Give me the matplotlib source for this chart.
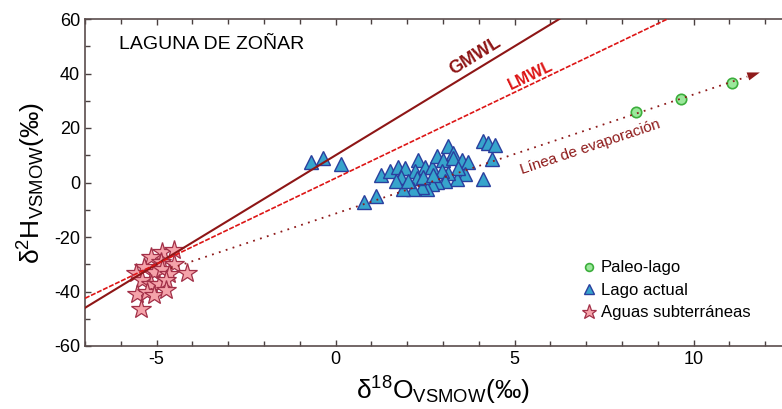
import numpy as np
import matplotlib
matplotlib.use('Agg')
from matplotlib import pyplot as plt
from matplotlib.ticker import MultipleLocator

plt.rcParams['font.family'] = ['Liberation Sans', 'DejaVu Sans']
plt.rcParams['mathtext.fontset'] = 'custom'
plt.rcParams['mathtext.rm'] = 'Liberation Sans'
plt.rcParams['mathtext.it'] = 'Liberation Sans:italic'
plt.rcParams['mathtext.bf'] = 'Liberation Sans:bold'
plt.rcParams['axes.unicode_minus'] = False

# Paleo-lago
paleo_x = [8.4, 9.66, 11.06]
paleo_y = [26.0, 30.6, 36.4]

# Lago actual
lago_x = [-0.68, -0.36, 0.14, 1.28, 1.51, 1.75, 1.93, 2.31, 2.21, 2.49, 2.68,
          2.82, 3.15, 3.01, 3.27, 3.29, 3.52, 3.71, 4.13, 4.27, 4.45, 4.38,
          4.13, 3.61, 3.38, 3.43, 3.15, 2.96, 3.05, 2.82, 2.68, 2.54, 2.40,
          2.26, 2.17, 1.87, 1.84, 1.70, 2.03, 2.45, 2.73, 1.14, 0.79]
lago_y = [7.4, 9.0, 6.8, 2.8, 4.4, 5.6, 5.2, 8.3, 4.4, 5.6, 5.6,
          9.6, 13.3, 8.3, 10.9, 8.9, 8.4, 7.7, 15.4, 14.4, 13.6, 8.7,
          1.4, 3.2, 1.4, 5.2, 3.4, 4.1, 0.5, 0.1, -0.7, -2.3, -1.5,
          1.7, -2.3, -2.3, 1.9, 0.4, 0.7, 1.9, 2.6, -4.8, -7.2]

# Aguas subterraneas
sub_x = [-4.84, -4.51, -5.16, -4.88, -4.51, -5.35, -5.58, -5.07, -4.84, -4.65,
         -4.14, -5.40, -5.16, -4.93, -4.74, -5.54, -5.26, -5.07, -4.74, -5.44]
sub_y = [-25.5, -24.7, -27.4, -29.2, -29.8, -31.0, -33.2, -32.9, -31.6, -33.4,
         -33.2, -35.9, -37.1, -37.1, -35.9, -40.8, -40.2, -41.4, -39.6, -46.3]

# rectas
gmwl_slope, gmwl_icpt = 8.0, 10.0
lmwl_slope, lmwl_icpt = 6.3, 1.6
evap_slope, evap_icpt = 4.37, -11.4
evap_start, evap_end = -4.6, 11.5

fig = plt.figure(figsize=(7.82, 4.09), dpi=100)
ax = fig.add_axes([85 / 782, 1 - 346 / 409, 716 / 782, 327 / 409])
ax.set_xlim(-7, 13)
ax.set_ylim(-60, 60)

xx = np.array([-7, 13])
ax.plot(xx, gmwl_slope * xx + gmwl_icpt, color='#8e1616', lw=1.5, zorder=4)
ax.plot(xx, lmwl_slope * xx + lmwl_icpt, color='#dd1515', lw=1.2,
        dashes=(3, 1), zorder=4)
ex = np.array([evap_start, evap_end])
ax.plot(ex, evap_slope * ex + evap_icpt, color='#8e1a1a', lw=1.3,
        dashes=(1, 3), zorder=4)
tip = evap_end + 0.35
ax.annotate('', xy=(tip, evap_slope * tip + evap_icpt),
            xytext=(evap_end, evap_slope * evap_end + evap_icpt),
            arrowprops=dict(arrowstyle='-|>,head_length=0.9,head_width=0.3',
                            color='#8e1a1a', lw=0, shrinkA=0, shrinkB=0),
            zorder=4)

ax.plot(paleo_x, paleo_y, 'o', ms=7.5, mfc='#9be89b', mec='#3cae3c', mew=1.2,
        ls='none', label='Paleo-lago', zorder=3)
ax.plot(lago_x, lago_y, '^', ms=10, mfc='#37a4cc', mec='#2a3f9e', mew=1.0,
        ls='none', label='Lago actual', zorder=3)
ax.plot(sub_x, sub_y, '*', ms=15, mfc='#f5a3aa', mec='#a23048', mew=0.9,
        ls='none', label='Aguas subterráneas', zorder=3)

ax.text(-6.05, 50.7, 'LAGUNA DE ZOÑAR', fontsize=14, ha='left', va='center')
ax.text(3.89, 46.5, 'GMWL', fontsize=13, fontweight='bold', color='#8e1616',
        rotation=31.5, ha='center', va='center', rotation_mode='anchor')
ax.text(5.44, 39.2, 'LMWL', fontsize=11.5, fontweight='bold', color='#dd1515',
        rotation=25.7, ha='center', va='center', rotation_mode='anchor')
ax.text(7.11, 12.9, 'Línea de evaporación', fontsize=11, color='#8e1a1a',
        rotation=18.5, ha='center', va='center', rotation_mode='anchor')

ax.set_xlabel(r'δ$^{18}$O$_{\mathrm{VSMOW}}$(‰)', fontsize=19, labelpad=5)
ax.set_ylabel(r'δ$^{2}$H$_{\mathrm{VSMOW}}$(‰)', fontsize=19, labelpad=4)

ax.xaxis.set_major_locator(MultipleLocator(5))
ax.xaxis.set_minor_locator(MultipleLocator(1))
ax.yaxis.set_major_locator(MultipleLocator(20))
ax.yaxis.set_minor_locator(MultipleLocator(10))
ax.tick_params(which='both', direction='in', top=True, right=True,
               color='#4a4040', labelsize=13)
ax.tick_params(which='major', length=4.5, width=1)
ax.tick_params(which='minor', length=3.5, width=1)
for s in ax.spines.values():
    s.set_color('#5a4d4d')
    s.set_linewidth(1.2)

ax.legend(loc='upper left', bbox_to_anchor=(574 / 782, 1 - 252 / 409),
          bbox_transform=fig.transFigure, frameon=False, fontsize=12,
          handlelength=0.8, handletextpad=0.3, labelspacing=0.45,
          markerscale=0.75, borderpad=0)

fig.savefig('out.png', dpi=100)
